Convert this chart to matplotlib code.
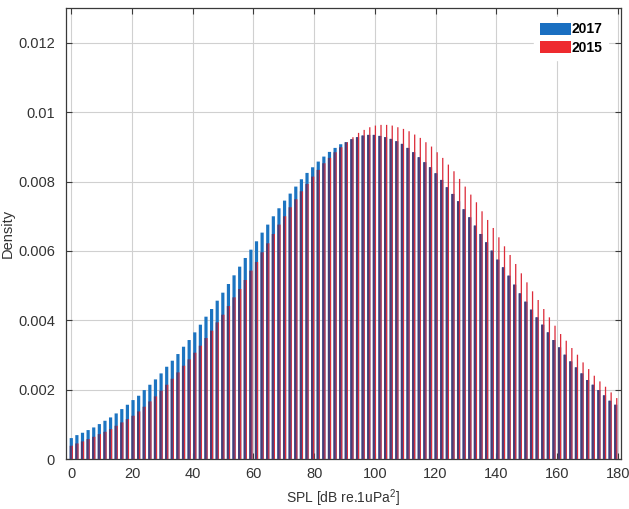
import numpy as np
import matplotlib
matplotlib.use("Agg")
import matplotlib.pyplot as plt
from matplotlib.patches import Patch

plt.rcParams['font.family'] = ['Liberation Sans', 'DejaVu Sans']
plt.rcParams['mathtext.fontset'] = 'custom'
plt.rcParams['mathtext.rm'] = 'Liberation Sans'
plt.rcParams['mathtext.it'] = 'Liberation Sans:italic'

# Bin centres (SPL, dB) - 98 bins between 0 and ~179.3
n_bins = 98
spl_start, spl_end = 0.0, 179.3

density_2017 = [
    0.000606, 0.000692, 0.000760, 0.000837, 0.000913, 0.001010, 0.001106, 0.001202,
    0.001317, 0.001442, 0.001567, 0.001702, 0.001827, 0.001990, 0.002144, 0.002298,
    0.002471, 0.002663, 0.002837, 0.003029, 0.003240, 0.003433, 0.003654, 0.003875,
    0.004106, 0.004327, 0.004567, 0.004798, 0.005048, 0.005298, 0.005548, 0.005798,
    0.006038, 0.006279, 0.006529, 0.006760, 0.007000, 0.007231, 0.007452, 0.007654,
    0.007856, 0.008067, 0.008250, 0.008413, 0.008577, 0.008721, 0.008856, 0.008971,
    0.009077, 0.009135, 0.009221, 0.009279, 0.009327, 0.009346, 0.009346, 0.009317,
    0.009279, 0.009231, 0.009163, 0.009087, 0.008971, 0.008846, 0.008702, 0.008558,
    0.008413, 0.008240, 0.008048, 0.007837, 0.007644, 0.007433, 0.007202, 0.006971,
    0.006731, 0.006490, 0.006250, 0.006010, 0.005750, 0.005529, 0.005288, 0.005029,
    0.004779, 0.004538, 0.004308, 0.004087, 0.003875, 0.003654, 0.003433, 0.003221,
    0.003010, 0.002817, 0.002644, 0.002471, 0.002279, 0.002144, 0.001990, 0.001837,
    0.001683, 0.001567,
]

density_2015 = [
    0.000385, 0.000452, 0.000510, 0.000577, 0.000644, 0.000721, 0.000788, 0.000865,
    0.000962, 0.001058, 0.001154, 0.001250, 0.001375, 0.001510, 0.001663, 0.001808,
    0.001971, 0.002144, 0.002317, 0.002500, 0.002692, 0.002875, 0.003067, 0.003269,
    0.003490, 0.003702, 0.003942, 0.004163, 0.004413, 0.004663, 0.004904, 0.005163,
    0.005433, 0.005683, 0.005962, 0.006221, 0.006490, 0.006760, 0.007000, 0.007260,
    0.007490, 0.007721, 0.007933, 0.008144, 0.008337, 0.008529, 0.008683, 0.008846,
    0.008990, 0.009135, 0.009279, 0.009404, 0.009490, 0.009567, 0.009615, 0.009635,
    0.009635, 0.009615, 0.009567, 0.009519, 0.009452, 0.009356, 0.009260, 0.009135,
    0.009010, 0.008846, 0.008683, 0.008490, 0.008298, 0.008077, 0.007856, 0.007625,
    0.007404, 0.007144, 0.006894, 0.006663, 0.006394, 0.006135, 0.005885, 0.005625,
    0.005356, 0.005096, 0.004837, 0.004587, 0.004327, 0.004087, 0.003846, 0.003606,
    0.003413, 0.003202, 0.003010, 0.002788, 0.002596, 0.002404, 0.002240, 0.002087,
    0.001923, 0.001760,
]

series_labels = ['2017', '2015']
x_ticks = [0, 20, 40, 60, 80, 100, 120, 140, 160, 180]
y_ticks = [0, 0.002, 0.004, 0.006, 0.008, 0.010, 0.012]
y_tick_labels = ['0', '0.002', '0.004', '0.006', '0.008', '0.01', '0.012']

centers = np.linspace(spl_start, spl_end, n_bins)
b = np.array(density_2017)
r = np.array(density_2015)
overlap = np.minimum(b, r)

BLUE = '#1c74c1'
RED = '#dc2c3a'
PURPLE = '#4a3b74'

fig = plt.figure(figsize=(6.29, 5.09), dpi=100)
ax = fig.add_axes([0.105, 0.098, 0.882, 0.886])

ax.bar(centers - 0.5, b, width=1.05, align='edge', color=BLUE, linewidth=0,
       zorder=2, snap=False)
ax.bar(centers + 0.15, r, width=0.42, align='edge', color=RED, linewidth=0,
       zorder=3, snap=False)
ax.bar(centers - 0.5, overlap, width=0.65, align='edge', color=PURPLE, linewidth=0,
       zorder=4, snap=False)

ax.set_xlim(-1.7, 181)
ax.set_ylim(0, 0.013)
ax.set_xticks(x_ticks)
ax.set_yticks(y_ticks)
ax.set_yticklabels(y_tick_labels)

ax.grid(True, color='#d0d0d0', linewidth=0.8, zorder=0)
ax.set_axisbelow(True)

for s in ax.spines.values():
    s.set_color('#3a3a3a')
    s.set_linewidth(0.9)
ax.tick_params(direction='in', length=4, width=0.8, colors='#3a3a3a',
               labelcolor='#333333', labelsize=10.5, top=True, right=True)
ax.tick_params(axis='y', pad=8)
ax.tick_params(axis='x', pad=6)

ax.set_xlabel('SPL [dB re.1uPa$^2$]', fontsize=10, color='#333333', labelpad=4)
ax.set_ylabel('Density', fontsize=10.5, color='#333333')
ax.yaxis.set_label_coords(-0.093, 0.5)

handles = [Patch(facecolor='#1a6fc1', edgecolor='none'),
           Patch(facecolor='#ee2a2f', edgecolor='none')]
leg = ax.legend(handles, series_labels, loc='upper right',
                bbox_to_anchor=(0.985, 0.99), frameon=True, fancybox=False,
                edgecolor='white', facecolor='white', framealpha=1.0,
                prop={'weight': 'bold', 'size': 10},
                handlelength=2.2, handleheight=0.95, labelspacing=0.3,
                handletextpad=0.1, borderpad=0.4, borderaxespad=0.3)
leg.set_zorder(10)

fig.savefig('out.png', dpi=100)
